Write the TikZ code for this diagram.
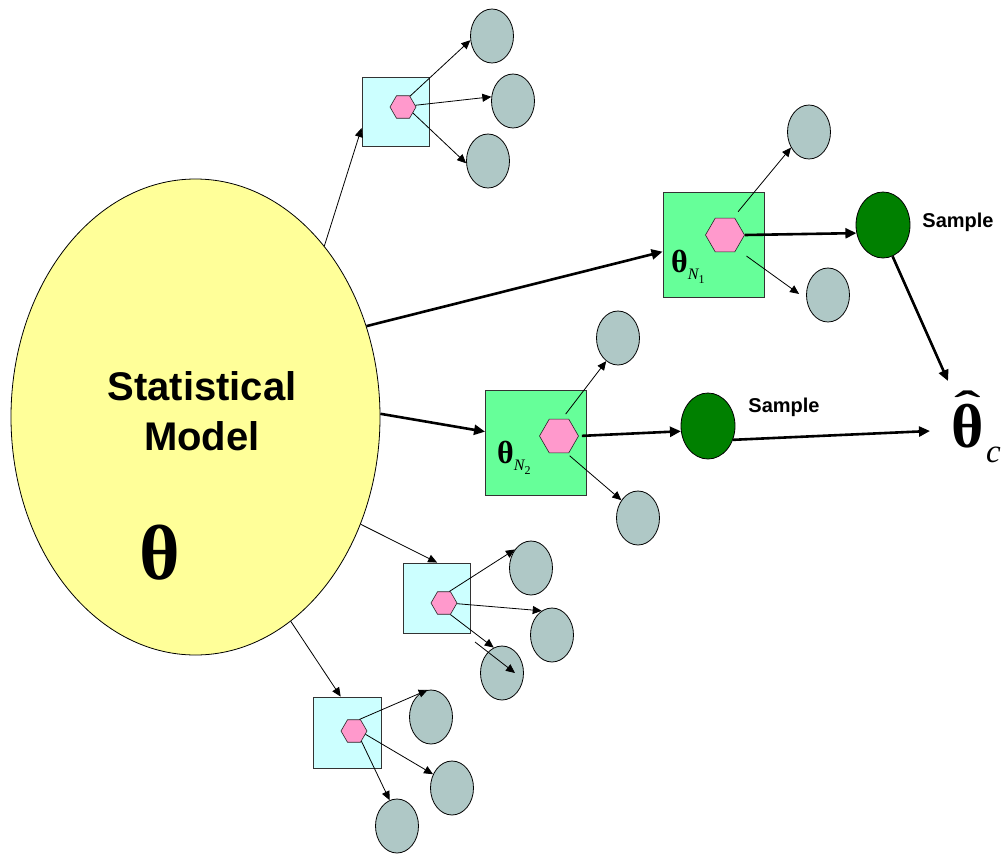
\documentclass[tikz,border=0pt]{standalone}
\usepackage{fontspec}
\usetikzlibrary{shapes.geometric,arrows.meta}
\newfontfamily\arialf{Liberation Sans}
\newfontfamily\tnrf{Liberation Serif}
\definecolor{ellY}{HTML}{FFFF99}
\definecolor{cyanL}{HTML}{CCFFFF}
\definecolor{greenL}{HTML}{66FF99}
\definecolor{pinkH}{HTML}{FF99CC}
\definecolor{greyC}{RGB}{175,200,198}
\definecolor{darkG}{HTML}{008000}
\begin{document}
\begin{tikzpicture}[x=1pt,y=-1pt,
  model/.style={ellipse, draw=black, line width=0.8pt, fill=ellY, minimum width=369pt, minimum height=476pt, inner sep=0pt},
  cbox/.style={rectangle, draw=black!80, line width=0.9pt, fill=cyanL, inner sep=0pt, minimum width=67pt, minimum height=69pt},
  gbox/.style={rectangle, draw=black!80, line width=0.9pt, fill=greenL, inner sep=0pt, minimum width=101pt, minimum height=105pt},
  hexs/.style={regular polygon, regular polygon sides=6, draw=black!85, line width=0.6pt, fill=pinkH, inner sep=0pt, minimum size=26pt},
  hexb/.style={hexs, minimum size=39pt},
  gcirc/.style={ellipse, draw=black, line width=0.8pt, fill=greyC, minimum width=43pt, minimum height=54pt, inner sep=0pt},
  dcirc/.style={ellipse, draw=black, line width=0.8pt, fill=darkG, minimum width=54pt, minimum height=66pt, inner sep=0pt},
  thinarr/.style={-{Triangle[length=9pt,width=8pt]}, line width=0.8pt},
  thickarr/.style={-{Triangle[length=11pt,width=10pt]}, line width=2.6pt},
  samp/.style={font=\arialf\bfseries\fontsize{20}{20}\selectfont, inner sep=0pt, anchor=base},
]
\useasboundingbox (0,0) rectangle (1002,854);

% main model
\node[model] (m) at (195.5,417) {};
\node[font=\arialf\bfseries\fontsize{40}{50}\selectfont, align=center, inner sep=0pt] (smt) at (202,411) {Statistical\\Model};
\node[font=\tnrf\bfseries\fontsize{78}{78}\selectfont, inner sep=0pt] (thm) at (160,553) {θ};

% group A (top cyan)
\node[cbox] (boxA) at (395.5,111.5) {};
\node[hexs] (hexA) at (403,107) {};
\node[gcirc] (cA1) at (492,36) {};
\node[gcirc] (cA2) at (513,101) {};
\node[gcirc] (cA3) at (488,161) {};

% group B (upper green)
\node[gbox] (boxB) at (713.5,244.5) {};
\node[hexb] (hexB) at (725,235) {};
\node[gcirc] (cB1) at (809,132) {};
\node[gcirc] (cB2) at (828,295) {};
\node[dcirc] (dB) at (883,225) {};
\node[samp] (sB) at (958,227) {Sample};
\node[inner sep=0pt, anchor=base west] (tN1) at (671,272) {{\tnrf\bfseries\fontsize{32}{32}\selectfont θ}\raisebox{-7pt}{\tnrf\itshape\fontsize{16}{16}\selectfont N}\raisebox{-11pt}{\tnrf\fontsize{12}{12}\selectfont 1}};

% group C (lower green)
\node[gbox] (boxC) at (536,442.5) {};
\node[hexb] (hexC) at (559,436) {};
\node[gcirc] (cC1) at (618,338) {};
\node[gcirc] (cC2) at (638,518) {};
\node[dcirc] (dC) at (708,426) {};
\node[samp] (sC) at (784,412) {Sample};
\node[inner sep=0pt, anchor=base west] (tN2) at (497,463) {{\tnrf\bfseries\fontsize{32}{32}\selectfont θ}\raisebox{-7pt}{\tnrf\itshape\fontsize{16}{16}\selectfont N}\raisebox{-11pt}{\tnrf\fontsize{12}{12}\selectfont 2}};

% group D (middle cyan)
\node[cbox, minimum height=70pt] (boxD) at (436.5,598) {};
\node[hexs] (hexD) at (444,603) {};
\node[gcirc] (cD1) at (531,568) {};
\node[gcirc] (cD2) at (552,635) {};
\node[gcirc] (cD3) at (502,673) {};

% group E (bottom cyan)
\node[cbox, minimum width=68pt, minimum height=71pt] (boxE) at (347,732.5) {};
\node[hexs] (hexE) at (354,731) {};
\node[gcirc] (cE1) at (431,717) {};
\node[gcirc] (cE2) at (452,788) {};
\node[gcirc] (cE3) at (397,826) {};

% combined estimate
\node[font=\tnrf\bfseries\fontsize{62}{62}\selectfont, inner sep=0pt, anchor=base] (thc) at (968,447)
  {\ooalign{θ\cr\hidewidth\raisebox{27pt}{\fontsize{42}{42}\selectfont\scalebox{1.9}[1]{ˆ}}\hidewidth\cr}};
\node[font=\tnrf\itshape\fontsize{33}{33}\selectfont, inner sep=0pt, anchor=base west] (csub) at (986,462) {c};
\coordinate (thN) at (948,381);
\coordinate (thW) at (930,431);
\coordinate (dxs) at (475,642);
\coordinate (dxe) at (515,673);

% connectors from model
\draw[thinarr] (m.53) -- (boxA.206);
\draw[thickarr] (m.28.5) -- (boxB.188);
\draw[thickarr] (m.1) -- (boxC.168);
\draw[thinarr] (m.-33) -- (boxD.89);
\draw[thinarr] (m.-65) -- (boxE.100);

% group A arrows
\draw[thinarr] (hexA.57) -- (cA1.191);
\draw[thinarr] (hexA.8) -- (cA2.169);
\draw[thinarr] (hexA.-31) -- (cA3.186);

% group B arrows
\draw[thinarr, shorten <=8pt] (hexB.65) -- (cB1.221);
\draw[thinarr, shorten <=12pt, shorten >=9pt] (hexB.-50) -- (cB2.191);
\draw[thickarr] (hexB.0) -- (dB.197);
\draw[thickarr] (dB.-73) -- (thN);

% group C arrows
\draw[thinarr, shorten <=6pt] (hexC.80) -- (cC1.243);
\draw[thinarr, shorten <=4pt] (hexC.-66) -- (cC2.133);
\draw[thickarr, shorten <=3pt] (hexC.0) -- (dC.191);
\draw[thickarr] (dC.-29) -- (thW);

% group D arrows
\draw[thinarr] (hexD.65) -- (cD1.131);
\draw[thinarr] (hexD.-3) -- (cD2.113);
\draw[thinarr] (hexD.-61) -- (cD3.108);
\draw[thinarr] (dxs) -- (dxe);

% group E arrows
\draw[thinarr] (hexE.65) -- (cE1.97);
\draw[thinarr] (hexE.-16) -- (cE2.144);
\draw[thinarr] (hexE.-54) -- (cE3.106);
\end{tikzpicture}
\end{document}
